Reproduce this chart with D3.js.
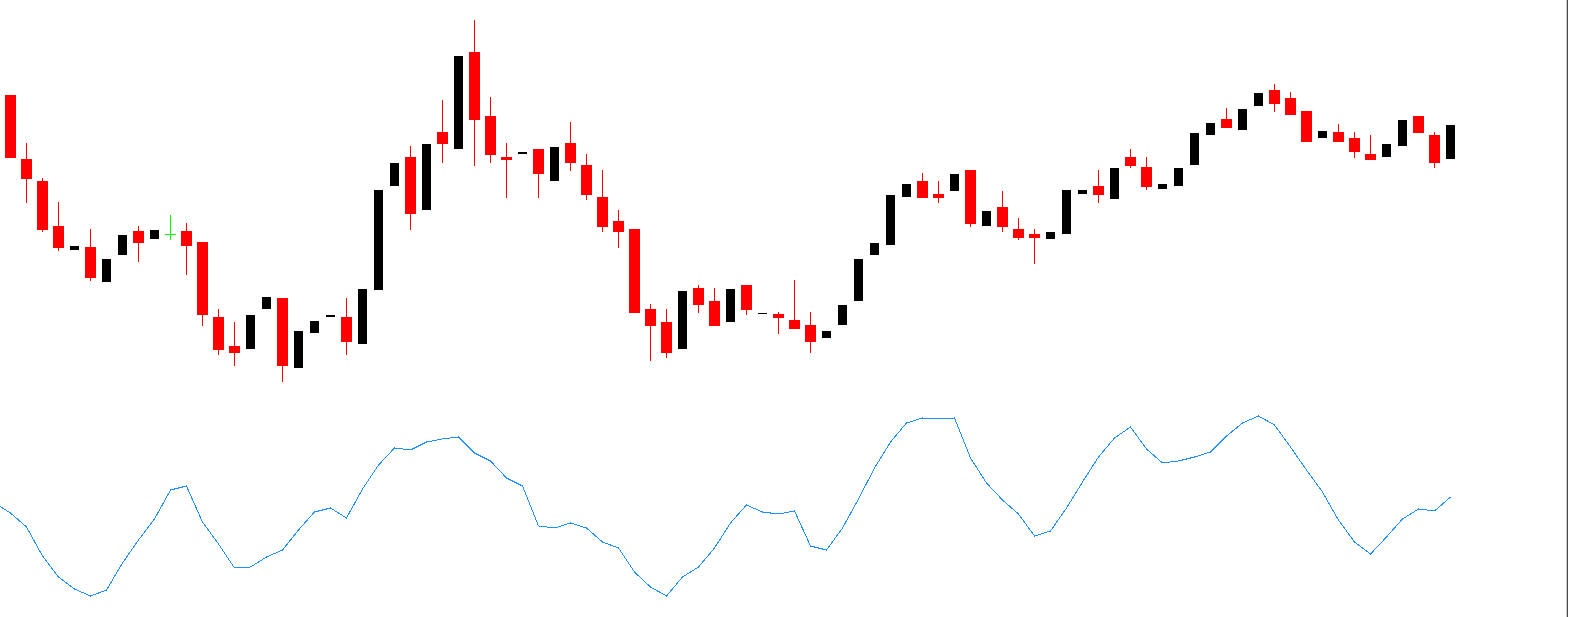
<!DOCTYPE html>
<html>
<head>
<meta charset="utf-8">
<script src="https://cdn.jsdelivr.net/npm/d3@7"></script>
<style>
  html, body { margin: 0; padding: 0; background: #ffffff; }
  svg { display: block; }
</style>
</head>
<body>
<svg id="chart" width="1569" height="617"></svg>
<script>
// ---- DATA (price points) ----
const openP  = [505,441,419,374,350,353,318,345,369,361,
                366,369,358,283,254,251,291,302,232,267,
                283,283,256,310,414,443,390,468,451,548,
                484,443,446,451,419,457,435,403,379,371,
                291,278,251,312,299,278,315,286,286,280,
                275,262,275,299,345,355,403,419,406,409,
                430,374,393,371,366,361,366,406,414,401,
                443,433,411,414,435,465,481,470,494,510,
                502,489,462,468,462,446,443,454,484,465,
                441];
const highP  = [505,457,422,398,354,371,341,365,374,370,
                385,377,358,291,278,285,303,302,269,279,
                285,302,311,410,437,454,456,500,544,580,
                503,457,448,451,453,478,446,430,390,371,
                296,291,309,315,312,311,315,287,288,320,
                288,269,295,341,357,405,416,427,419,426,
                430,389,409,382,371,368,410,410,430,432,
                451,443,416,432,467,477,492,491,507,516,
                508,489,469,476,468,465,456,480,484,468,
                475];
const lowP   = [442,397,368,349,350,319,318,345,338,361,
                360,325,274,245,234,251,291,218,232,267,
                283,245,256,310,414,370,390,437,451,434,
                437,402,446,402,419,429,400,368,352,287,
                239,242,251,287,274,278,285,286,266,271,
                247,262,275,299,345,355,403,402,397,409,
                373,374,368,360,336,361,366,406,397,401,
                432,410,411,414,435,465,472,470,494,488,
                485,458,462,458,442,440,443,454,467,432,
                441];
const closeP = [442,421,370,352,354,322,341,365,357,370,
                366,354,285,250,247,285,303,234,269,279,
                285,258,311,410,437,386,456,456,544,480,
                445,440,448,426,453,437,405,373,368,287,
                274,247,309,295,274,311,290,287,282,271,
                258,269,295,341,357,405,416,402,402,426,
                376,389,373,362,362,368,410,410,405,432,
                434,413,416,432,467,477,472,491,507,496,
                485,458,469,458,448,440,456,480,467,437,
                475];
// oscillator values, first one belongs to the bar before the first visible bar
const oscStartIndex = -1;
const oscValues = [97,
                87,73,44,23,11,4,10,37,60,81,
                110,114,78,56,32,33,43,50,70,88,
                92,82,111,135,152,150,158,161,163,147,
                139,122,114,74,72,77,72,58,52,28,
                13,4,23,33,52,77,95,88,86,89,
                54,50,72,101,132,158,177,182,181,182,
                142,117,100,86,64,69,92,118,143,162,
                173,151,137,139,143,148,164,177,184,175,
                153,130,108,80,58,46,63,81,91,89,
                103];

// ---- BUILD ----
const bars = openP.map((o, i) => ({ i, o, h: highP[i], l: lowP[i], c: closeP[i] }));
const osc = oscValues.map((v, j) => ({ i: j + oscStartIndex, v }));

const W = 1569, H = 617;
const svg = d3.select("#chart");
svg.append("rect").attr("width", W).attr("height", H).attr("fill", "#ffffff");

const x = d3.scaleLinear().domain([0, bars.length - 1]).range([10.5, 1450.5]);
const yPrice = d3.scaleLinear().domain([-17, 600]).range([617, 0]);
const yOsc = d3.scaleLinear().domain([0, 200]).range([600, 400]);

const bodyW = 11, bullW = 9;

svg.append("defs").append("clipPath").attr("id", "clip")
  .append("rect").attr("x", 0).attr("y", 0).attr("width", 1566).attr("height", H);

const g = svg.append("g").attr("clip-path", "url(#clip)").attr("shape-rendering", "crispEdges");

// bear candles (red wick + red body)
const bears = bars.filter(d => d.c < d.o);
g.selectAll("line.bearWick").data(bears).join("line")
  .attr("class", "bearWick")
  .attr("x1", d => x(d.i)).attr("x2", d => x(d.i))
  .attr("y1", d => yPrice(d.h)).attr("y2", d => yPrice(d.l))
  .attr("stroke", "#ff0000").attr("stroke-width", 1);
g.selectAll("rect.bearBody").data(bears).join("rect")
  .attr("class", "bearBody")
  .attr("x", d => x(d.i) - bodyW / 2)
  .attr("width", bodyW)
  .attr("y", d => yPrice(d.o))
  .attr("height", d => Math.max(1, yPrice(d.c) - yPrice(d.o)))
  .attr("fill", "#ff0000");

// bull candles (black body, wick drawn white = invisible)
const bulls = bars.filter(d => d.c > d.o);
g.selectAll("rect.bullBody").data(bulls).join("rect")
  .attr("class", "bullBody")
  .attr("x", d => x(d.i) - bullW / 2)
  .attr("width", bullW)
  .attr("y", d => yPrice(d.c))
  .attr("height", d => Math.max(1, yPrice(d.o) - yPrice(d.c)))
  .attr("fill", "#000000");

// doji candles (lime cross)
const dojis = bars.filter(d => d.c === d.o);
g.selectAll("line.dojiWick").data(dojis).join("line")
  .attr("x1", d => x(d.i)).attr("x2", d => x(d.i))
  .attr("y1", d => yPrice(d.h)).attr("y2", d => yPrice(d.l))
  .attr("stroke", "#00ff00").attr("stroke-width", 1);
g.selectAll("line.dojiBody").data(dojis).join("line")
  .attr("x1", d => x(d.i) - bodyW / 2).attr("x2", d => x(d.i) + bodyW / 2)
  .attr("y1", d => yPrice(d.o) + 0.5).attr("y2", d => yPrice(d.o) + 0.5)
  .attr("stroke", "#00ff00").attr("stroke-width", 1);

// oscillator line
const line = d3.line().x(d => x(d.i)).y(d => yOsc(d.v));
g.append("path").datum(osc)
  .attr("d", line)
  .attr("fill", "none")
  .attr("stroke", "#1e90ff")
  .attr("stroke-width", 1);

// right window border
svg.append("line").attr("x1", 1566.5).attr("x2", 1566.5).attr("y1", 0).attr("y2", H)
  .attr("stroke", "#c8c8c8").attr("stroke-width", 1);
svg.append("line").attr("x1", 1567.5).attr("x2", 1567.5).attr("y1", 0).attr("y2", H)
  .attr("stroke", "#4a4a4a").attr("stroke-width", 1);
</script>
</body>
</html>
